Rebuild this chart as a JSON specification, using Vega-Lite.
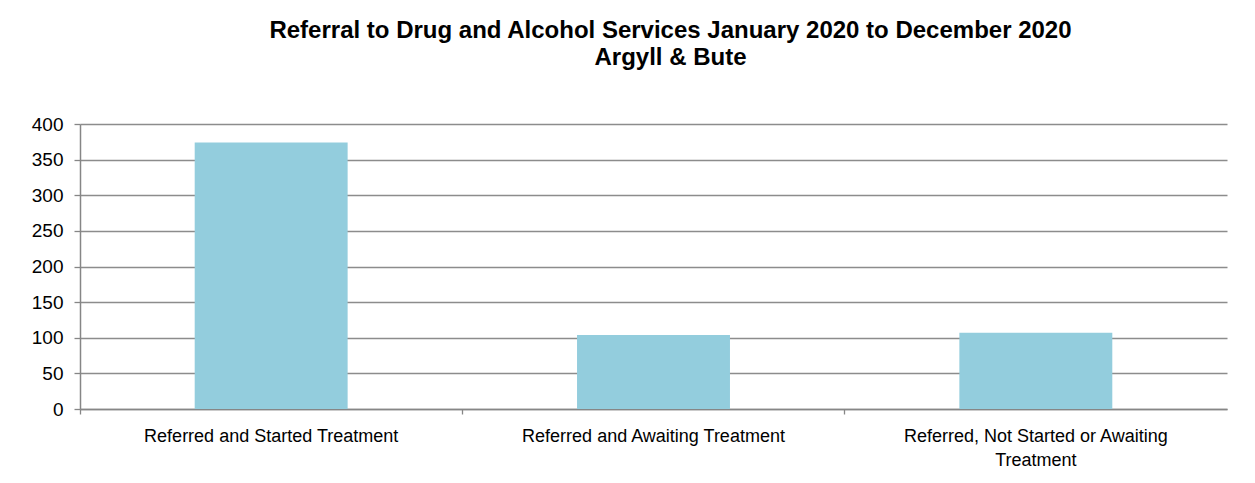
{
  "$schema": "https://vega.github.io/schema/vega-lite/v6.json",
  "autosize": "none",
  "width": 1147,
  "height": 285,
  "padding": {"left": 80, "top": 124, "right": 28, "bottom": 74},
  "background": "white",
  "title": {
    "text": ["Referral to Drug and Alcohol Services January 2020 to December 2020", "Argyll & Bute"],
    "font": "Liberation Sans",
    "fontSize": 24,
    "fontWeight": "bold",
    "color": "#000000",
    "lineHeight": 27,
    "anchor": "middle",
    "dx": 17,
    "offset": 45
  },
  "data": {
    "values": [
      {"category": "Referred and Started Treatment", "count": 374},
      {"category": "Referred and Awaiting Treatment", "count": 104},
      {"category": "Referred, Not Started or Awaiting Treatment", "count": 107}
    ]
  },
  "mark": {"type": "bar", "color": "#93CDDD", "width": {"band": 0.4}},
  "encoding": {
    "x": {
      "field": "category",
      "type": "nominal",
      "sort": null,
      "scale": {"paddingInner": 0, "paddingOuter": 0},
      "axis": {
        "title": null,
        "labelAngle": 0,
        "bandPosition": 0,
        "labelFont": "Liberation Sans",
        "labelFontSize": 18,
        "labelColor": "#000000",
        "labelPadding": 13,
        "labelLineHeight": 24,
        "labelLimit": 400,
        "labelExpr": "datum.label == 'Referred, Not Started or Awaiting Treatment' ? ['Referred, Not Started or Awaiting', 'Treatment'] : datum.label",
        "tickSize": 5,
        "tickColor": "#868686",
        "tickWidth": 1.3,
        "domainColor": "#868686",
        "domainWidth": 1.5,
        "grid": false
      }
    },
    "y": {
      "field": "count",
      "type": "quantitative",
      "scale": {"domain": [0, 400], "nice": false},
      "axis": {
        "title": null,
        "values": [0, 50, 100, 150, 200, 250, 300, 350, 400],
        "labelFont": "Liberation Sans",
        "labelFontSize": 19,
        "labelColor": "#000000",
        "labelPadding": 11,
        "tickSize": 6,
        "tickColor": "#868686",
        "tickWidth": 1.3,
        "domainColor": "#868686",
        "domainWidth": 1.5,
        "grid": true,
        "gridColor": "#8C8C8C",
        "gridWidth": 1.3
      }
    }
  },
  "config": {"view": {"stroke": null}}
}
